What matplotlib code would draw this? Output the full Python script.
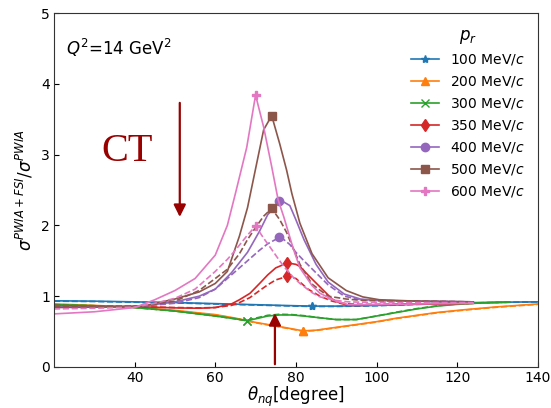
import matplotlib
matplotlib.use('agg')
import matplotlib.pyplot as plt

# angle grids and ratio sigma(PWIA+FSI)/sigma(PWIA); solid = with CT, dashed = without
theta_100 = [20, 30, 40, 50, 60, 70, 80, 83.9, 90, 100, 110, 120, 130, 140]
ct_100 = [0.935, 0.93, 0.92, 0.91, 0.895, 0.88, 0.865, 0.86, 0.86, 0.87, 0.89, 0.905, 0.915, 0.92]
noct_100 = [0.93, 0.925, 0.915, 0.905, 0.89, 0.875, 0.86, 0.855, 0.855, 0.865, 0.885, 0.9, 0.912, 0.92]

theta_200 = [20, 30, 40, 50, 60, 65, 70, 75, 78, 81.8, 85, 90, 95, 100, 105, 110, 115, 122, 130, 140]
ct_200 = [0.89, 0.87, 0.845, 0.8, 0.74, 0.69, 0.63, 0.58, 0.55, 0.51, 0.52, 0.56, 0.6, 0.64, 0.69, 0.73, 0.77, 0.81, 0.85, 0.89]
noct_200 = [0.885, 0.865, 0.84, 0.795, 0.735, 0.685, 0.625, 0.575, 0.545, 0.505, 0.515, 0.555, 0.595, 0.635, 0.685, 0.725, 0.765, 0.805, 0.845, 0.885]

theta_300 = [20, 30, 40, 50, 60, 65, 67.8, 70, 73, 76, 79, 82, 86, 90, 95, 100, 105, 110, 115, 120, 126, 133]
ct_300 = [0.88, 0.865, 0.84, 0.79, 0.72, 0.68, 0.655, 0.68, 0.72, 0.735, 0.735, 0.72, 0.695, 0.67, 0.67, 0.72, 0.77, 0.82, 0.86, 0.885, 0.905, 0.915]
noct_300 = [0.88, 0.865, 0.84, 0.79, 0.72, 0.68, 0.655, 0.69, 0.73, 0.745, 0.74, 0.725, 0.695, 0.67, 0.67, 0.72, 0.775, 0.825, 0.865, 0.89, 0.905, 0.915]

theta_350 = [20, 30, 42, 50, 56, 60, 64, 66, 68.6, 71, 73, 75, 77.9, 80, 81, 83, 86, 89, 91, 93.3, 96, 100, 110, 124]
ct_350 = [0.86, 0.855, 0.85, 0.835, 0.83, 0.84, 0.89, 0.95, 1.04, 1.18, 1.3, 1.4, 1.47, 1.45, 1.42, 1.3, 1.13, 0.96, 0.9, 0.87, 0.87, 0.875, 0.885, 0.9]
noct_350 = [0.87, 0.86, 0.85, 0.84, 0.835, 0.84, 0.87, 0.91, 0.98, 1.08, 1.16, 1.23, 1.28, 1.25, 1.2, 1.1, 1.0, 0.93, 0.905, 0.89, 0.885, 0.885, 0.89, 0.9]

theta_400 = [20, 30, 42, 50, 56, 60, 64, 68, 71, 73, 75.9, 77, 78.5, 80, 82, 85, 88, 92, 96, 100, 110, 124]
ct_400 = [0.85, 0.85, 0.86, 0.92, 1.0, 1.1, 1.33, 1.62, 1.92, 2.15, 2.34, 2.33, 2.28, 2.08, 1.8, 1.45, 1.2, 1.03, 0.96, 0.94, 0.93, 0.92]
noct_400 = [0.86, 0.855, 0.86, 0.9, 0.98, 1.1, 1.3, 1.5, 1.65, 1.74, 1.83, 1.8, 1.73, 1.62, 1.5, 1.33, 1.16, 1.0, 0.95, 0.94, 0.93, 0.92]

theta_500 = [20, 30, 42, 50, 56, 60, 63, 66, 68, 70, 72, 74, 76, 77.7, 79, 81, 84, 88, 92.5, 96.6, 100.7, 110, 124]
ct_500 = [0.84, 0.845, 0.86, 0.96, 1.06, 1.18, 1.35, 1.85, 2.25, 2.8, 3.35, 3.55, 3.15, 2.78, 2.45, 2.03, 1.6, 1.26, 1.08, 0.99, 0.95, 0.93, 0.92]
noct_500 = [0.86, 0.855, 0.86, 0.93, 1.08, 1.25, 1.38, 1.6, 1.8, 1.97, 2.13, 2.24, 2.08, 1.9, 1.72, 1.45, 1.17, 1.0, 0.96, 0.94, 0.935, 0.93, 0.92]

theta_600 = [20, 30, 40, 45, 50, 55, 60, 63, 65, 67.8, 70, 72, 74, 75.6, 77, 79.3, 81, 84, 86, 90, 93, 100, 110, 124]
ct_600 = [0.75, 0.78, 0.84, 0.95, 1.08, 1.25, 1.58, 2.0, 2.45, 3.1, 3.84, 3.39, 2.83, 2.36, 2.12, 1.68, 1.4, 1.15, 1.04, 0.93, 0.88, 0.88, 0.89, 0.9]
noct_600 = [0.82, 0.83, 0.845, 0.9, 0.97, 1.1, 1.35, 1.52, 1.65, 1.85, 1.99, 1.82, 1.66, 1.53, 1.42, 1.27, 1.18, 1.05, 0.99, 0.94, 0.92, 0.91, 0.91, 0.91]

# angle where each curve carries its marker
marked = [83.9, 81.8, 67.8, 77.9, 75.9, 74, 70]

momenta = [100, 200, 300, 350, 400, 500, 600]
thetas = [theta_100, theta_200, theta_300, theta_350, theta_400, theta_500, theta_600]
with_ct = [ct_100, ct_200, ct_300, ct_350, ct_400, ct_500, ct_600]
without_ct = [noct_100, noct_200, noct_300, noct_350, noct_400, noct_500, noct_600]

colors = ['#1f77b4', '#ff7f0e', '#2ca02c', '#d62728', '#9467bd', '#8c564b', '#e377c2']
markers = ['*', '^', 'x', 'd', 'o', 's', 'P']
arrowcolor = '#990000'

fig = plt.figure(figsize=(5.51, 4.08), dpi=100)
ax = fig.add_axes([0.098, 0.1005, 0.878, 0.8676])

for p, th, y1, y2, m, c, mk in zip(momenta, thetas, with_ct, without_ct, marked, colors, markers):
	idx = th.index(m)
	ax.plot(th, y1, color=c, linestyle='-', lw=1.2, marker=mk, markevery=[idx], markersize=6,
			label=f"{p} MeV/$c$")
	ax.plot(th, y2, color=c, linestyle='--', lw=1.2, marker=mk, markevery=[idx], markersize=6)

ax.set_xlim(20, 140)
ax.set_ylim(0, 5)
ax.set_xticks([40, 60, 80, 100, 120, 140])
ax.set_yticks([0, 1, 2, 3, 4, 5])
ax.tick_params(direction='in', labelsize=10, pad=3)
for s in ax.spines.values():
	s.set_color('#333333')

ax.set_xlabel(r"$\theta_{nq}$[degree]", fontsize=12, labelpad=0)
ax.set_ylabel(r"$\sigma^{PWIA+FSI}/\sigma^{PWIA}$", fontsize=12)

ax.text(0.025, 0.90, r"$Q^2$=14 GeV$^2$", transform=ax.transAxes, fontsize=12, va='center')

leg = ax.legend(loc='upper right', frameon=False, fontsize=10, title=r"$p_r$", title_fontsize=12)

ax.text(38, 3.05, "CT", family='Liberation Serif', fontsize=29, color=arrowcolor, ha='center', va='center')
ax.annotate('', xy=(51.2, 2.08), xytext=(51.2, 3.77),
			arrowprops=dict(arrowstyle='-|>', color=arrowcolor, lw=1.6, mutation_scale=18))
ax.annotate('', xy=(74.8, 0.8), xytext=(74.8, 0.0),
			arrowprops=dict(arrowstyle='-|>', color=arrowcolor, lw=1.6, mutation_scale=18))

plt.savefig("out.png", dpi=100)
